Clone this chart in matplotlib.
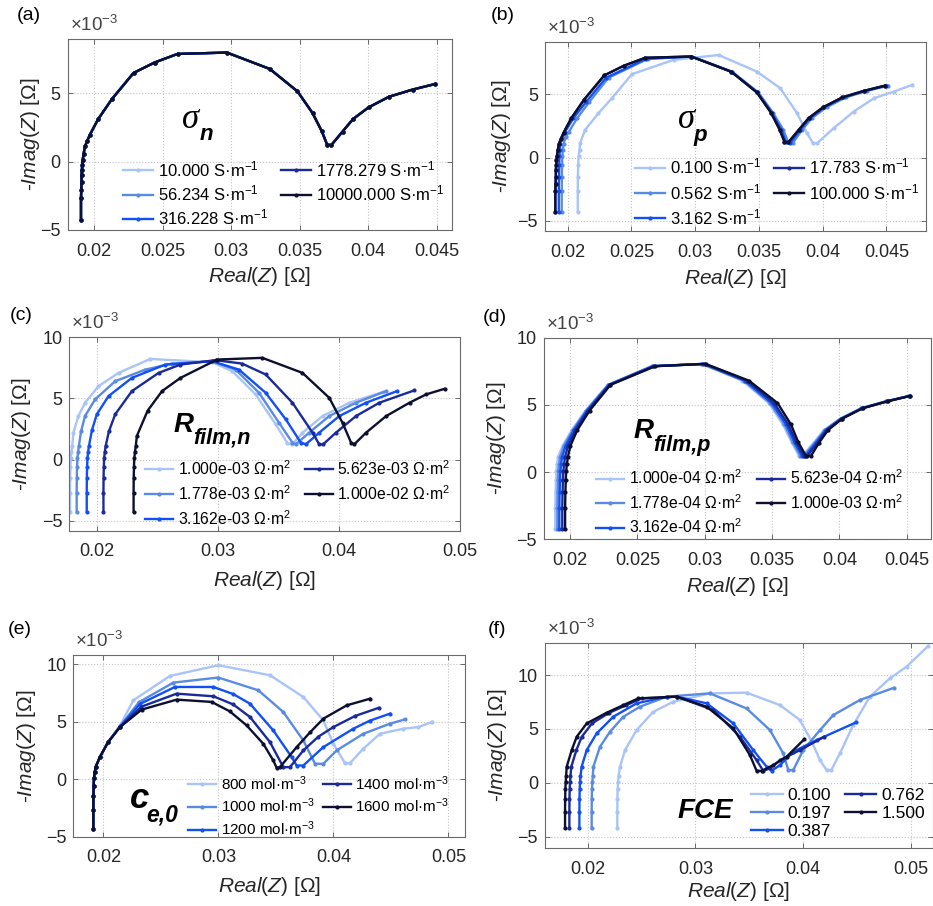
import matplotlib
matplotlib.use('Agg')
import matplotlib.pyplot as plt

plt.rcParams['font.family'] = ['Liberation Sans', 'DejaVu Sans']
plt.rcParams['mathtext.fontset'] = 'custom'
plt.rcParams['mathtext.rm'] = 'Liberation Sans'
plt.rcParams['mathtext.it'] = 'Liberation Sans:italic'
plt.rcParams['mathtext.bf'] = 'Liberation Sans:bold'

COLORS = ['#a9c4f7', '#5a8be3', '#1250f5', '#1a2a9a', '#0b1030']
TXT = '#262626'

# ---- (a) sigma_n : all five curves coincide
A_X = [0.01903, 0.01903, 0.01905, 0.01907, 0.01907, 0.01910, 0.01912, 0.01915, 0.01922, 0.01932,
       0.01947, 0.01968, 0.02029, 0.02129, 0.02287, 0.02440, 0.02608, 0.02968, 0.03282, 0.03484,
       0.03594, 0.03662, 0.03700, 0.03730, 0.03813, 0.03890, 0.04003, 0.04153, 0.04324, 0.04489]
A_Y = [-4.26, -2.68, -2.06, -1.50, -0.97, -0.60, -0.23, 0.09, 0.57, 1.11,
       1.48, 1.97, 3.12, 4.58, 6.49, 7.25, 7.88, 7.98, 6.78, 5.14,
       3.55, 2.21, 1.25, 1.20, 2.20, 3.12, 3.97, 4.75, 5.27, 5.68]
LAB_A = ['10.000 S·m$^{-1}$', '56.234 S·m$^{-1}$', '316.228 S·m$^{-1}$',
         '1778.279 S·m$^{-1}$', '10000.000 S·m$^{-1}$']

# ---- (b) sigma_p
B1_X = [0.02079, 0.02079, 0.02080, 0.02082, 0.02085, 0.02093, 0.02097, 0.02136, 0.02241, 0.02346,
        0.02503, 0.02830, 0.03183, 0.03484, 0.03668, 0.03799, 0.03877, 0.03924, 0.03956, 0.04086,
        0.04243, 0.04401, 0.04558, 0.04702]
B1_Y = [-4.26, -2.68, -1.50, -0.60, 0.09, 0.60, 1.13, 2.18, 3.50, 4.68,
        6.58, 7.71, 8.10, 6.79, 5.47, 3.50, 1.92, 1.13, 1.13, 2.32,
        3.63, 4.68, 5.21, 5.74]
B2_X = [0.01953, 0.01953, 0.01954, 0.01956, 0.01958, 0.01962, 0.01968, 0.01985, 0.02010, 0.02075,
        0.02170, 0.02320, 0.02630, 0.02975, 0.03290, 0.03495, 0.03610, 0.03690, 0.03730, 0.03765,
        0.03840, 0.03915, 0.04030, 0.04180, 0.04350, 0.04515]
B3_X = [0.01930, 0.01930, 0.01932, 0.01934, 0.01935, 0.01938, 0.01942, 0.01956, 0.01980, 0.02045,
        0.02145, 0.02300, 0.02615, 0.02970, 0.03285, 0.03488, 0.03600, 0.03675, 0.03712, 0.03745,
        0.03825, 0.03900, 0.04012, 0.04163, 0.04334, 0.04500]
B_MID_Y = [-4.26, -2.68, -1.50, -0.60, 0.09, 0.57, 1.11, 1.60, 2.05, 3.12,
           4.40, 6.30, 7.80, 7.98, 6.78, 5.14, 3.55, 2.21, 1.20, 1.15,
           2.20, 3.12, 3.97, 4.75, 5.27, 5.68]
LAB_B = ['0.100 S·m$^{-1}$', '0.562 S·m$^{-1}$', '3.162 S·m$^{-1}$',
         '17.783 S·m$^{-1}$', '100.000 S·m$^{-1}$']

# ---- (c) R_film,n
C1_X = [0.01779, 0.01779, 0.01780, 0.01782, 0.01785, 0.01790, 0.01797, 0.01807, 0.01848, 0.01903,
        0.02014, 0.02180, 0.02442, 0.02953, 0.03119, 0.03312, 0.03478, 0.03575, 0.03616, 0.03699,
        0.03865, 0.04086, 0.04362]
C1_Y = [-4.25, -2.70, -1.50, -0.60, 0.10, 0.60, 1.10, 2.20, 3.56, 4.65,
        6.00, 7.09, 8.23, 7.96, 7.23, 5.33, 2.88, 1.33, 1.25, 2.20,
        3.56, 4.65, 5.52]
C2_X = [0.01834, 0.01834, 0.01835, 0.01837, 0.01840, 0.01845, 0.01852, 0.01870, 0.01903, 0.01986,
        0.02152, 0.02401, 0.02620, 0.02953, 0.03146, 0.03340, 0.03506, 0.03616, 0.03644, 0.03754,
        0.03920, 0.04141, 0.04390]
C2_Y = [-4.25, -2.70, -1.50, -0.60, 0.10, 0.60, 1.10, 2.30, 3.56, 4.92,
        6.41, 7.36, 7.85, 8.04, 7.36, 5.46, 3.00, 1.39, 1.25, 2.20,
        3.56, 4.65, 5.60]
C3_X = [0.01917, 0.01917, 0.01918, 0.01920, 0.01923, 0.01928, 0.01935, 0.01960, 0.02000, 0.02097,
        0.02290, 0.02566, 0.02953, 0.03174, 0.03395, 0.03561, 0.03685, 0.03727, 0.03837, 0.04003,
        0.04224, 0.04480]
C3_Y = [-4.25, -2.70, -1.50, -0.60, 0.10, 0.60, 1.10, 2.40, 3.70, 5.19,
        6.68, 7.77, 8.04, 7.36, 5.46, 3.29, 1.39, 1.25, 2.20, 3.56,
        4.65, 5.60]
C4_X = [0.02055, 0.02055, 0.02056, 0.02058, 0.02061, 0.02066, 0.02073, 0.02100, 0.02152, 0.02290,
        0.02511, 0.02691, 0.02981, 0.03200, 0.03395, 0.03616, 0.03782, 0.03837, 0.03870, 0.03975,
        0.04141, 0.04334, 0.04620]
C4_Y = [-4.25, -2.70, -1.50, -0.60, 0.10, 0.60, 1.10, 2.30, 3.70, 5.60,
        7.09, 7.77, 8.13, 7.85, 6.96, 4.65, 2.20, 1.25, 1.25, 2.20,
        3.56, 4.65, 5.65]
C5_X = [0.02304, 0.02304, 0.02305, 0.02307, 0.02310, 0.02315, 0.02322, 0.02331, 0.02420, 0.02539,
        0.02691, 0.02994, 0.03367, 0.03699, 0.03920, 0.04030, 0.04100, 0.04127, 0.04224, 0.04390,
        0.04583, 0.04720, 0.04873]
C5_Y = [-4.25, -2.70, -1.50, -0.60, 0.10, 0.60, 1.10, 1.93, 4.00, 5.60,
        6.68, 8.18, 8.32, 7.09, 5.05, 3.00, 1.39, 1.25, 2.20, 3.56,
        4.65, 5.33, 5.79]
LAB_C = ['1.000e-03 Ω·m$^{2}$', '1.778e-03 Ω·m$^{2}$', '3.162e-03 Ω·m$^{2}$',
         '5.623e-03 Ω·m$^{2}$', '1.000e-02 Ω·m$^{2}$']

# ---- (d) R_film,p
D_Y = [-4.26, -2.68, -1.50, -0.60, 0.09, 0.57, 1.11, 1.97, 3.12, 4.58,
       6.49, 7.88, 8.05, 6.80, 5.14, 3.55, 2.21, 1.21, 1.21, 2.20,
       3.12, 3.97, 4.75, 5.27, 5.66]
D1_X = [0.01890, 0.01890, 0.01892, 0.01895, 0.01898, 0.01903, 0.01910, 0.01945, 0.02012, 0.02115,
        0.02280, 0.02605, 0.02975, 0.03280, 0.03475, 0.03580, 0.03645, 0.03700, 0.03725, 0.03810,
        0.03885, 0.04005, 0.04160, 0.04345, 0.04515]
D2_X = [0.01905, 0.01905, 0.01907, 0.01910, 0.01913, 0.01918, 0.01925, 0.01955, 0.02020, 0.02120,
        0.02283, 0.02610, 0.02980, 0.03290, 0.03485, 0.03592, 0.03655, 0.03710, 0.03735, 0.03818,
        0.03890, 0.04008, 0.04163, 0.04348, 0.04517]
D3_X = [0.01920, 0.01920, 0.01922, 0.01925, 0.01928, 0.01933, 0.01940, 0.01968, 0.02028, 0.02126,
        0.02287, 0.02615, 0.02990, 0.03300, 0.03498, 0.03605, 0.03668, 0.03722, 0.03748, 0.03828,
        0.03898, 0.04012, 0.04167, 0.04352, 0.04519]
D4_X = [0.01942, 0.01942, 0.01944, 0.01947, 0.01950, 0.01955, 0.01962, 0.01985, 0.02040, 0.02134,
        0.02293, 0.02622, 0.03000, 0.03315, 0.03515, 0.03620, 0.03680, 0.03735, 0.03762, 0.03838,
        0.03905, 0.04016, 0.04170, 0.04356, 0.04521]
D5_X = [0.01963, 0.01963, 0.01965, 0.01968, 0.01971, 0.01976, 0.01983, 0.02003, 0.02053, 0.02145,
        0.02300, 0.02633, 0.03006, 0.03329, 0.03540, 0.03640, 0.03695, 0.03751, 0.03789, 0.03850,
        0.03915, 0.04020, 0.04173, 0.04359, 0.04521]
LAB_D = ['1.000e-04 Ω·m$^{2}$', '1.778e-04 Ω·m$^{2}$', '3.162e-04 Ω·m$^{2}$',
         '5.623e-04 Ω·m$^{2}$', '1.000e-03 Ω·m$^{2}$']

# ---- (e) c_e,0
E1_X = [0.01913, 0.01913, 0.01914, 0.01916, 0.01919, 0.01925, 0.01935, 0.01970, 0.02040, 0.02145,
        0.02261, 0.02580, 0.03000, 0.03449, 0.03739, 0.03913, 0.04000, 0.04101, 0.04145, 0.04261,
        0.04406, 0.04609, 0.04739, 0.04857]
E1_Y = [-4.33, -2.70, -1.50, -0.60, 0.10, 0.60, 1.10, 1.92, 3.20, 4.65,
        6.86, 8.98, 9.91, 9.04, 7.15, 5.12, 3.08, 1.40, 1.40, 2.65,
        3.95, 4.39, 4.53, 4.97]
E2_X = [0.01913, 0.01913, 0.01914, 0.01916, 0.01919, 0.01925, 0.01935, 0.01970, 0.02040, 0.02145,
        0.02310, 0.02609, 0.03000, 0.03348, 0.03565, 0.03739, 0.03841, 0.03913, 0.04029, 0.04261,
        0.04493, 0.04623]
E2_Y = [-4.33, -2.70, -1.50, -0.60, 0.10, 0.60, 1.10, 1.92, 3.20, 4.60,
        6.70, 8.40, 8.84, 7.73, 5.84, 3.37, 1.34, 1.34, 2.50, 3.95,
        4.83, 5.20]
E3_X = [0.01913, 0.01913, 0.01914, 0.01916, 0.01919, 0.01925, 0.01935, 0.01970, 0.02040, 0.02145,
        0.02320, 0.02623, 0.02957, 0.03130, 0.03275, 0.03478, 0.03638, 0.03681, 0.03739, 0.03913,
        0.04174, 0.04320, 0.04493]
E3_Y = [-4.33, -2.70, -1.50, -0.60, 0.10, 0.60, 1.10, 1.92, 3.20, 4.58,
        6.55, 8.02, 8.02, 7.40, 6.57, 4.24, 1.92, 1.19, 1.19, 2.79,
        4.39, 5.10, 5.70]
E4_X = [0.01913, 0.01913, 0.01914, 0.01916, 0.01919, 0.01925, 0.01935, 0.01970, 0.02040, 0.02145,
        0.02330, 0.02638, 0.02957, 0.03130, 0.03275, 0.03449, 0.03565, 0.03623, 0.03739, 0.03870,
        0.04000, 0.04190, 0.04393]
E4_Y = [-4.33, -2.70, -1.50, -0.60, 0.10, 0.60, 1.10, 1.92, 3.20, 4.55,
        6.30, 7.44, 7.21, 6.50, 5.41, 3.23, 1.05, 1.05, 2.50, 3.70,
        4.53, 5.50, 6.20]
E5_X = [0.01913, 0.01913, 0.01914, 0.01916, 0.01919, 0.01925, 0.01935, 0.01970, 0.02040, 0.02145,
        0.02333, 0.02638, 0.02942, 0.03100, 0.03246, 0.03391, 0.03478, 0.03507, 0.03536, 0.03681,
        0.03800, 0.03913, 0.04116, 0.04319]
E5_Y = [-4.33, -2.70, -1.50, -0.60, 0.10, 0.60, 1.10, 1.92, 3.20, 4.53,
        6.05, 6.92, 6.72, 5.90, 4.68, 3.08, 1.63, 0.99, 1.05, 2.79,
        4.10, 5.26, 6.42, 7.00]
LAB_E = ['800 mol·m$^{-3}$', '1000 mol·m$^{-3}$', '1200 mol·m$^{-3}$',
         '1400 mol·m$^{-3}$', '1600 mol·m$^{-3}$']

# ---- (f) FCE
F1_X = [0.02275, 0.02275, 0.02276, 0.02278, 0.02281, 0.02286, 0.02300, 0.02346, 0.02454, 0.02609,
        0.02794, 0.03134, 0.03474, 0.03784, 0.03969, 0.04080, 0.04155, 0.04216, 0.04260, 0.04340,
        0.04464, 0.04618, 0.04804, 0.04958, 0.05159]
F1_Y = [-4.24, -2.70, -1.50, -0.60, 0.06, 0.60, 1.49, 3.03, 4.89, 6.59,
        7.52, 8.30, 8.36, 7.21, 5.82, 3.80, 2.10, 1.18, 1.18, 2.72,
        5.36, 7.99, 9.69, 10.77, 12.69]
F2_X = [0.02037, 0.02037, 0.02038, 0.02040, 0.02043, 0.02047, 0.02053, 0.02114, 0.02207, 0.02331,
        0.02485, 0.02733, 0.03134, 0.03474, 0.03691, 0.03815, 0.03861, 0.03907, 0.04000, 0.04155,
        0.04278, 0.04525, 0.04840]
F2_Y = [-4.24, -2.70, -1.50, -0.60, 0.06, 0.60, 1.49, 3.34, 4.74, 6.13,
        7.06, 7.99, 8.30, 6.90, 4.89, 2.72, 1.18, 1.18, 3.03, 4.89,
        6.28, 7.68, 8.81]
F3_X = [0.01923, 0.01923, 0.01924, 0.01926, 0.01929, 0.01933, 0.01944, 0.01991, 0.02083, 0.02238,
        0.02454, 0.02733, 0.02830, 0.03104, 0.03351, 0.03536, 0.03660, 0.03706, 0.03784, 0.03907,
        0.04124, 0.04489]
F3_Y = [-4.24, -2.70, -1.50, -0.60, 0.06, 0.60, 1.49, 3.03, 4.58, 6.13,
        7.37, 7.99, 7.99, 7.37, 5.51, 3.03, 1.49, 1.11, 1.64, 2.88,
        3.96, 5.60]
F4_X = [0.01830, 0.01830, 0.01831, 0.01833, 0.01836, 0.01840, 0.01848, 0.01895, 0.01945, 0.02040,
        0.02200, 0.02360, 0.02500, 0.02825, 0.03165, 0.03413, 0.03567, 0.03629, 0.03691, 0.03784,
        0.03969, 0.04195]
F4_Y = [-4.24, -2.70, -1.50, -0.60, 0.06, 0.60, 1.49, 3.03, 4.27, 5.51,
        6.50, 7.21, 7.83, 7.99, 6.75, 4.27, 2.10, 1.11, 1.33, 2.10,
        3.03, 4.27]
F5_X = [0.01790, 0.01790, 0.01791, 0.01793, 0.01796, 0.01800, 0.01805, 0.01852, 0.01898, 0.01991,
        0.02176, 0.02331, 0.02470, 0.02825, 0.03104, 0.03351, 0.03505, 0.03567, 0.03614, 0.03722,
        0.03845, 0.04010]
F5_Y = [-4.24, -2.70, -1.50, -0.60, 0.06, 0.60, 1.49, 3.03, 4.27, 5.51,
        6.50, 7.21, 7.83, 7.99, 7.06, 5.05, 2.57, 1.11, 1.11, 1.64,
        2.41, 4.05]
LAB_F = ['0.100', '0.197', '0.387', '0.762', '1.500']

XT_FINE = [0.02, 0.025, 0.03, 0.035, 0.04, 0.045]
XT_FINE_LAB = ['0.02', '0.025', '0.03', '0.035', '0.04', '0.045']
XT_COARSE = [0.02, 0.03, 0.04, 0.05]
XT_COARSE_LAB = ['0.02', '0.03', '0.04', '0.05']

FIG_W, FIG_H = 933, 906


def px_rect(left, top, right, bottom):
    return [left / FIG_W, 1 - bottom / FIG_H, (right - left) / FIG_W, (bottom - top) / FIG_H]


def draw_panel(ax, series, labels, xlim, ylim, xticks, xticklabels, yticks):
    for (x, y), lab, col in zip(series, labels, COLORS):
        ax.plot(x, y, color=col, lw=1.7, marker='.', ms=4, label=lab)
    ax.set_xlim(xlim)
    ax.set_ylim(ylim)
    ax.set_xticks(xticks)
    ax.set_xticklabels(xticklabels)
    ax.set_yticks(yticks)
    ax.grid(True, linestyle=':', color='#c4c4c4', lw=0.8)
    ax.set_axisbelow(True)
    ax.tick_params(direction='in', top=True, right=True, length=3.5, width=0.6,
                   color='#555555', labelcolor=TXT, labelsize=13)
    ax.tick_params(axis='x', pad=9)
    ax.tick_params(axis='y', pad=5)
    for sp in ax.spines.values():
        sp.set_color('#6a6a6a')
        sp.set_linewidth(0.8)
    ax.text(0.005, 1.02, r'$\times10^{-3}$', transform=ax.transAxes, fontsize=13.5,
            color='#444444', ha='left', va='bottom')


def set_labels(ax, xl_y, yl_x):
    ax.set_xlabel(r'$\mathit{Real(Z)}$ [Ω]', fontsize=15, color=TXT)
    ax.set_ylabel(r'-$\mathit{Imag(Z)}$ [Ω]', fontsize=15, color=TXT)
    ax.xaxis.set_label_coords(0.5, xl_y)
    ax.yaxis.set_label_coords(yl_x, 0.5)
    ax.xaxis.label.set_va('center')
    ax.yaxis.label.set_va('center')


def add_legend(ax, anchor, colspace, labspace, size=12):
    ax.legend(loc='upper left', bbox_to_anchor=anchor, ncol=2, frameon=False, fontsize=size,
              handlelength=1.8, handletextpad=0.3, columnspacing=colspace,
              labelspacing=labspace, borderpad=0, borderaxespad=0, numpoints=1)


def tag(ax, x, y, s, size, family='Liberation Sans', weight='bold'):
    ax.text(x, y, s, transform=ax.transAxes, fontsize=size, family=family,
            style='italic', weight=weight, ha='left', va='baseline', color='black')


fig = plt.figure(figsize=(FIG_W / 100, FIG_H / 100), dpi=100)

# (a)
ax = fig.add_axes(px_rect(67.7, 39.3, 451.7, 230))
draw_panel(ax, [(A_X, A_Y)] * 5, LAB_A, (0.01806, 0.0461), (-5, 8.95),
           XT_FINE, XT_FINE_LAB, [-5, 0, 5])
set_labels(ax, -0.245, -0.098)
add_legend(ax, (0.144, 0.372), 0.75, 0.27)
tag(ax, 0.297, 0.533, 'σ', 25, family='Liberation Serif', weight='normal')
tag(ax, 0.343, 0.472, 'n', 16)

# (b)
ax = fig.add_axes(px_rect(545, 41.7, 926, 231))
draw_panel(ax, [(B1_X, B1_Y), (B2_X, B_MID_Y), (B3_X, B_MID_Y), (A_X, A_Y), (A_X, A_Y)], LAB_B,
           (0.01822, 0.0481), (-5.8, 9.15), XT_FINE, XT_FINE_LAB, [-5, 0, 5])
set_labels(ax, -0.250, -0.115)
add_legend(ax, (0.235, 0.392), 0.8, 0.32)
tag(ax, 0.348, 0.543, 'σ', 25, family='Liberation Serif', weight='normal')
tag(ax, 0.390, 0.475, 'p', 16)

# (c)
ax = fig.add_axes(px_rect(69.3, 337.3, 460, 531))
draw_panel(ax, [(C1_X, C1_Y), (C2_X, C2_Y), (C3_X, C3_Y), (C4_X, C4_Y), (C5_X, C5_Y)], LAB_C,
           (0.01773, 0.0500), (-5.84, 10), XT_COARSE, XT_COARSE_LAB, [-5, 0, 5, 10])
set_labels(ax, -0.253, -0.122)
add_legend(ax, (0.194, 0.372), 0.85, 0.40, size=11.3)
tag(ax, 0.266, 0.513, 'R', 20)
tag(ax, 0.318, 0.454, 'film,n', 15.5)

# (d)
ax = fig.add_axes(px_rect(543.7, 337.7, 931, 539.3))
draw_panel(ax, [(D1_X, D_Y), (D2_X, D_Y), (D3_X, D_Y), (D4_X, D_Y), (D5_X, D_Y)], LAB_D,
           (0.01804, 0.0468), (-5, 10), XT_FINE, XT_FINE_LAB, [-5, 0, 5, 10])
set_labels(ax, -0.235, -0.123)
add_legend(ax, (0.135, 0.350), 0.95, 0.37, size=11.3)
tag(ax, 0.231, 0.501, 'R', 20)
tag(ax, 0.283, 0.438, 'film,p', 15.5)

# (e)
ax = fig.add_axes(px_rect(73.3, 655, 465, 836.7))
draw_panel(ax, [(E1_X, E1_Y), (E2_X, E2_Y), (E3_X, E3_Y), (E4_X, E4_Y), (E5_X, E5_Y)], LAB_E,
           (0.01739, 0.05145), (-5, 10.8), XT_COARSE, XT_COARSE_LAB, [-5, 0, 5, 10])
set_labels(ax, -0.275, -0.119)
add_legend(ax, (0.294, 0.345), 0.55, 0.28, size=11)
tag(ax, 0.145, 0.156, 'c', 25)
tag(ax, 0.187, 0.086, 'e,0', 16.5)

# (f)
ax = fig.add_axes(px_rect(545, 642.7, 932.7, 848.3))
draw_panel(ax, [(F1_X, F1_Y), (F2_X, F2_Y), (F3_X, F3_Y), (F4_X, F4_Y), (F5_X, F5_Y)], LAB_F,
           (0.01604, 0.05201), (-6.08, 13.0), XT_COARSE, XT_COARSE_LAB, [-5, 0, 5, 10])
set_labels(ax, -0.212, -0.122)
add_legend(ax, (0.532, 0.295), 0.8, 0.16, size=12.5)
tag(ax, 0.342, 0.146, 'FCE', 20)

for lab, (px, py) in zip(['(a)', '(b)', '(c)', '(d)', '(e)', '(f)'],
                         [(17, 15), (491, 15), (10, 315), (483, 318), (8, 630), (488, 630)]):
    fig.text(px / FIG_W, 1 - py / FIG_H, lab, fontsize=14, color='black', ha='left', va='center')

fig.savefig('out.png', dpi=100)
